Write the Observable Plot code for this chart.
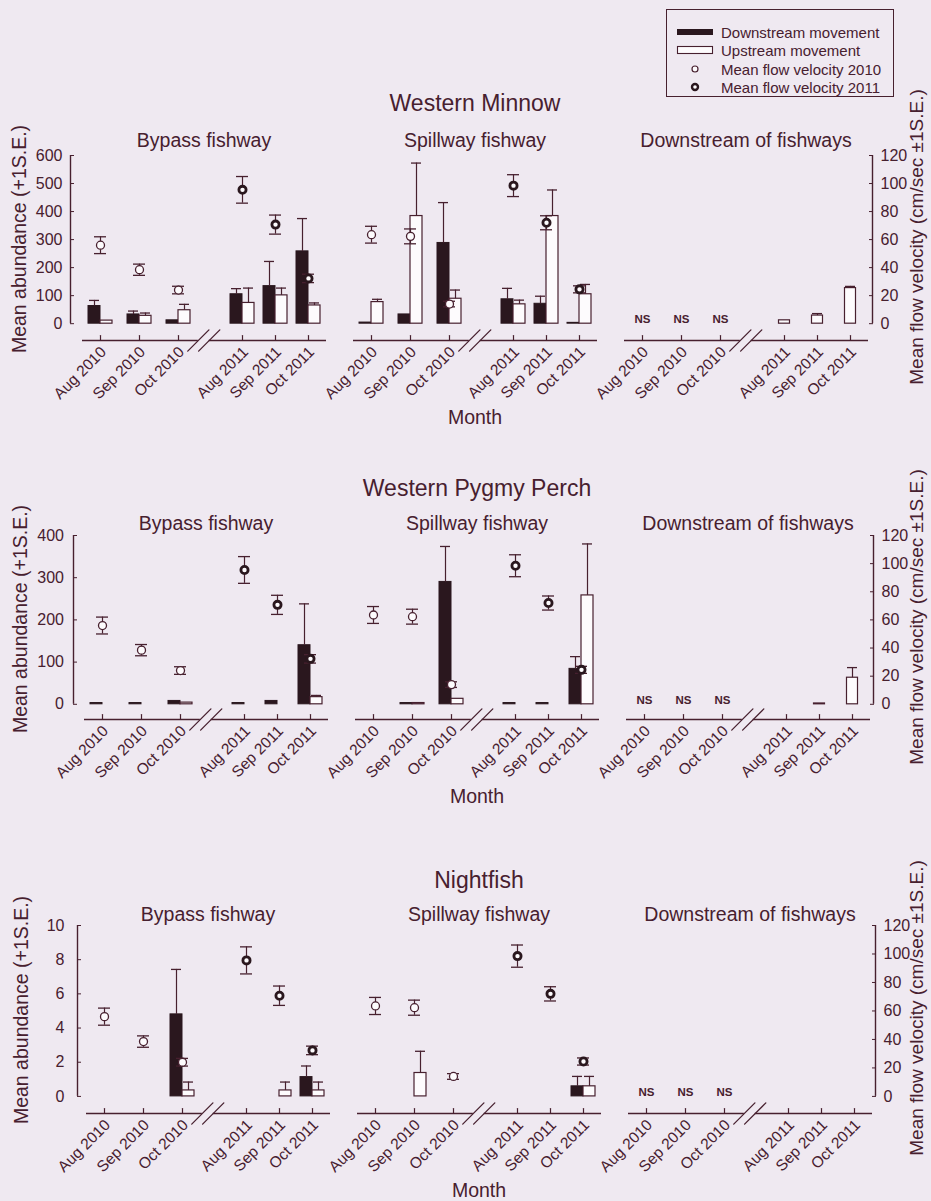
<!DOCTYPE html>
<html>
<head>
<meta charset="utf-8">
<script src="https://cdn.jsdelivr.net/npm/d3@7"></script>
<script src="https://cdn.jsdelivr.net/npm/@observablehq/plot@0.6"></script>
<style>
  html, body { margin: 0; padding: 0; background: #efe9f1; }
  #fig { position: relative; width: 931px; height: 1201px; overflow: hidden; background: #efe9f1;
         font-family: "Liberation Sans", Arial, sans-serif; color: #47202f; }
  .t { position: absolute; white-space: nowrap; line-height: 1; transform: translate(-50%, -50%); }
  .rot { transform: translate(-50%, -50%) rotate(-90deg); }
  .row { position: absolute; left: 0; }
  #legend { position: absolute; left: 666px; top: 9px; width: 228px; height: 88px; border: 1px solid #47202f; box-sizing: border-box; }
  #legend svg { position: absolute; left: 0; top: 0; }
  #legend span { position: absolute; left: 54px; font-size: 15px; line-height: 1; transform: translateY(-50%); white-space: nowrap; }
</style>
</head>
<body>
<div id="fig"></div>
<script>
// ---------- text / categories ----------
const months = ["Aug 2010", "Sep 2010", "Oct 2010", "Aug 2011", "Sep 2011", "Oct 2011"];
const sites = ["Bypass fishway", "Spillway fishway", "Downstream of fishways"];
const speciesNames = ["Western Minnow", "Western Pygmy Perch", "Nightfish"];
const legendLabels = ["Downstream movement", "Upstream movement", "Mean flow velocity 2010", "Mean flow velocity 2011"];
const notSampledLabel = "NS";
const xLabel = "Month";
const yLabelLeft = "Mean abundance (+1S.E.)";
const yLabelRight = "Mean flow velocity (cm/sec \u00b11S.E.)";

// ---------- axes ----------
const abundanceMax = [600, 400, 10];
const abundanceTicks = [[0, 100, 200, 300, 400, 500, 600], [0, 100, 200, 300, 400], [0, 2, 4, 6, 8, 10]];
const velocityMax = 120;
const velocityTicks = [0, 20, 40, 60, 80, 100, 120];

// ---------- mean flow velocity (cm/sec), same in every species row ----------
const bypassVelocity     = [56, 38.5, 24, 95.5, 70.7, 32.3];
const bypassVelocitySE   = [6, 4, 2.7, 9.5, 6.8, 3];
const spillwayVelocity   = [63.5, 62.3, 14, 98.5, 72, 24.5];
const spillwayVelocitySE = [6, 5.3, 2, 7.8, 5, 2.5];

// ---------- Western Minnow ----------
const minnowBypassDown     = [63, 33, 12, 105, 134, 258];
const minnowBypassDownSE   = [20, 12, 0, 20, 88, 117];
const minnowBypassUp       = [11, 28, 48, 74, 101, 65];
const minnowBypassUpSE     = [0, 10, 21, 53, 26, 9];
const minnowSpillwayDown   = [4, 33, 288, 87, 71, 3];
const minnowSpillwayDownSE = [0, 0, 144, 39, 27, 0];
const minnowSpillwayUp     = [77, 384, 89, 69, 384, 105];
const minnowSpillwayUpSE   = [10, 189, 31, 15, 93, 35];
const minnowDownstream     = [null, null, null, 12, 29, 127];
const minnowDownstreamSE   = [0, 0, 0, 0, 7, 6];

// ---------- Western Pygmy Perch ----------
const pygmyBypassDown     = [3, 3, 8, 3, 8, 140];
const pygmyBypassDownSE   = [0, 0, 0, 0, 0, 98];
const pygmyBypassUp       = [0, 0, 4, 0, 0, 17];
const pygmyBypassUpSE     = [0, 0, 0, 0, 0, 4];
const pygmySpillwayDown   = [0, 3, 290, 3, 3, 84];
const pygmySpillwayDownSE = [0, 0, 84, 0, 0, 29];
const pygmySpillwayUp     = [0, 3, 13, 0, 0, 258];
const pygmySpillwayUpSE   = [0, 0, 0, 0, 0, 122];
const pygmyDownstream     = [null, null, null, 0, 2, 63];
const pygmyDownstreamSE   = [0, 0, 0, 0, 0, 24];

// ---------- Nightfish ----------
const nightBypassDown     = [0, 0, 4.8, 0, 0, 1.13];
const nightBypassDownSE   = [0, 0, 2.63, 0, 0, 0.65];
const nightBypassUp       = [0, 0, 0.35, 0, 0.35, 0.35];
const nightBypassUpSE     = [0, 0, 0.49, 0, 0.49, 0.49];
const nightSpillwayDown   = [0, 0, 0, 0, 0, 0.59];
const nightSpillwayDownSE = [0, 0, 0, 0, 0, 0.58];
const nightSpillwayUp     = [0, 1.37, 0, 0, 0, 0.59];
const nightSpillwayUpSE   = [0, 1.27, 0, 0, 0, 0.58];
const nightDownstream     = [null, null, null, 0, 0, 0];
const nightDownstreamSE   = [0, 0, 0, 0, 0, 0];

// ---------- tables built from the arrays ----------
const velocity = [bypassVelocity, spillwayVelocity];
const velocitySE = [bypassVelocitySE, spillwayVelocitySE];
const speciesTables = [
  {down: [minnowBypassDown, minnowSpillwayDown], downSE: [minnowBypassDownSE, minnowSpillwayDownSE],
   up: [minnowBypassUp, minnowSpillwayUp], upSE: [minnowBypassUpSE, minnowSpillwayUpSE],
   below: minnowDownstream, belowSE: minnowDownstreamSE},
  {down: [pygmyBypassDown, pygmySpillwayDown], downSE: [pygmyBypassDownSE, pygmySpillwayDownSE],
   up: [pygmyBypassUp, pygmySpillwayUp], upSE: [pygmyBypassUpSE, pygmySpillwayUpSE],
   below: pygmyDownstream, belowSE: pygmyDownstreamSE},
  {down: [nightBypassDown, nightSpillwayDown], downSE: [nightBypassDownSE, nightSpillwayDownSE],
   up: [nightBypassUp, nightSpillwayUp], upSE: [nightBypassUpSE, nightSpillwayUpSE],
   below: nightDownstream, belowSE: nightDownstreamSE}
];

// ---------- style / layout ----------
const INK = "#47202f", DARK = "#2a171e", PAPER = "#fdfbfd";
const FONT = '"Liberation Sans", Arial, sans-serif';
const LEFT0 = 82, PANEL_W = 244, PANEL_STEP = 271;
const monthOffset = i => i < 3 ? 18 + 39 * i : 160 + 33 * (i - 3);
const BREAK_L = 2.31, BREAK_R = 2.48;
const rowsLayout = [
  {top: 155, axis: 340, shift: 0, yMinFrac: 0.10, title: 103, sub: 141, month: 418, mid: 239, axisDx: -12, labelGap: 8, rightDx: 4, yl: 20},
  {top: 535, axis: 719, shift: 2, yMinFrac: 0.09, title: 488, sub: 524, month: 797, mid: 619, axisDx: -11, labelGap: 9.5, rightDx: 3, yl: 21},
  {top: 925, axis: 1113, shift: 4, yMinFrac: 0.10, title: 880, sub: 915, month: 1191, mid: 1010, axisDx: -9, labelGap: 13, rightDx: 3, yl: 22}
];
const lineShape = {draw(context, l) { context.moveTo(0, 0); context.lineTo(0, -l); }};

const fig = document.getElementById("fig");
function addText(txt, x, y, size, cls = "t", extra = "") {
  const d = document.createElement("div");
  d.className = cls;
  d.textContent = txt;
  d.style.left = x + "px";
  d.style.top = y + "px";
  d.style.fontSize = size + "px";
  if (extra) d.style.cssText += extra;
  fig.appendChild(d);
}

function buildRow(r) {
  const L = rowsLayout[r];
  const S = speciesTables[r];
  const yMax = abundanceMax[r];
  const k = yMax / velocityMax;
  const yMin = -L.yMinFrac * yMax;
  const left = LEFT0 + L.shift;

  // piecewise x scale: three panels, each with a broken axis between years
  const domain = [], range = [];
  for (let p = 0; p < 3; p++) {
    const start = left + p * PANEL_STEP;
    domain.push(p * 10 - 0.5); range.push(start);
    for (let i = 0; i < 6; i++) { domain.push(p * 10 + i); range.push(start + monthOffset(i)); }
    domain.push(p * 10 + 5.5); range.push(start + PANEL_W);
  }

  const downBars = [], upBars = [], centreBars = [], vel = [], ns = [];
  for (let p = 0; p < 2; p++) {
    for (let i = 0; i < 6; i++) {
      if (S.down[p][i] > 0) downBars.push({x: p * 10 + i, v: S.down[p][i], se: S.downSE[p][i]});
      if (S.up[p][i] > 0) upBars.push({x: p * 10 + i, v: S.up[p][i], se: S.upSE[p][i]});
      vel.push({x: p * 10 + i, v: velocity[p][i] * k, se: velocitySE[p][i] * k, year: i < 3 ? 2010 : 2011});
    }
  }
  for (let i = 0; i < 6; i++) {
    if (S.below[i] === null) ns.push({x: 20 + i});
    else if (S.below[i] > 0) centreBars.push({x: 20 + i, v: S.below[i], se: S.belowSE[i]});
  }
  const monthTicks = [0, 1, 2, 3, 4, 5, 10, 11, 12, 13, 14, 15, 20, 21, 22, 23, 24, 25];
  const segments = [0, 10, 20].flatMap(o => [{a: o - 0.5, b: o + BREAK_L}, {a: o + BREAK_R, b: o + 5.5}]);
  const breaks = [0, 10, 20].flatMap(o => [o + BREAK_L, o + BREAK_R]);
  const yMinF = () => yMin;

  const errMarks = [[downBars, -6], [upBars, 6], [centreBars, 0]].flatMap(([data, dx]) => {
    const e = data.filter(d => d.se > 0);
    return [
      Plot.ruleX(e, {x: "x", y1: "v", y2: d => d.v + d.se, dx, stroke: INK, strokeWidth: 1.2}),
      Plot.ruleY(e, {x1: "x", x2: "x", y: d => d.v + d.se, dx, insetLeft: -5, insetRight: -5, stroke: INK, strokeWidth: 1.3})
    ];
  });

  const height = L.axis - L.top + 80;
  const chart = Plot.plot({
    width: 931,
    height,
    marginTop: 10,
    marginBottom: 70,
    marginLeft: left,
    marginRight: 931 - (left + 2 * PANEL_STEP + PANEL_W),
    x: {type: "linear", domain, range, axis: null},
    y: {domain: [yMin, yMax], axis: null},
    style: {fontFamily: FONT, color: INK, background: "transparent", overflow: "visible"},
    marks: [
      // broken x axis
      Plot.ruleY(segments, {x1: "a", x2: "b", y: yMinF, stroke: INK, strokeWidth: 1.5}),
      Plot.vector(breaks, {x: d => d, y: yMinF, rotate: 45, length: 30, anchor: "middle", shape: lineShape, stroke: INK, strokeWidth: 1.3}),
      Plot.vector(monthTicks, {x: d => d, y: yMinF, rotate: 0, length: 5, anchor: "start", shape: lineShape, stroke: INK, strokeWidth: 1.2}),
      Plot.axisX(monthTicks, {anchor: "bottom", label: null, tickSize: 0, tickPadding: 9, tickRotate: -45, dx: 3,
        tickFormat: d => months[d % 10], fontSize: 15.5}),
      // left abundance axis
      Plot.ruleX([-0.5], {x: d => d, y1: () => 0, y2: () => yMax, dx: L.axisDx, stroke: INK, strokeWidth: 1.4}),
      Plot.axisY(abundanceTicks[r], {anchor: "left", label: null, tickSize: -4, tickPadding: L.labelGap + 4, dx: L.axisDx, fontSize: 16}),
      // right velocity axis
      Plot.ruleX([25.5], {x: d => d, y1: () => 0, y2: () => yMax, dx: L.rightDx, stroke: INK, strokeWidth: 1.4}),
      Plot.axisY(velocityTicks.map(v => v * k), {anchor: "right", label: null, tickSize: -4, tickPadding: 12, dx: L.rightDx,
        tickFormat: d => String(Math.round(d / k)), fontSize: 16}),
      // bars
      Plot.rect(downBars, {x1: "x", x2: "x", y1: () => 0, y2: "v", insetLeft: -12, fill: DARK, stroke: DARK, strokeWidth: 1}),
      Plot.rect(upBars, {x1: "x", x2: "x", y1: () => 0, y2: "v", insetRight: -12, fill: PAPER, stroke: INK, strokeWidth: 1.2}),
      Plot.rect(centreBars, {x1: "x", x2: "x", y1: () => 0, y2: "v", insetLeft: -5.5, insetRight: -5.5, fill: PAPER, stroke: INK, strokeWidth: 1.2}),
      ...errMarks,
      // flow velocity with error bars
      Plot.ruleX(vel, {x: "x", y1: d => d.v - d.se, y2: d => d.v + d.se, stroke: INK, strokeWidth: 1.2}),
      Plot.ruleY(vel, {x1: "x", x2: "x", y: d => d.v + d.se, insetLeft: -6, insetRight: -6, stroke: INK, strokeWidth: 1.3}),
      Plot.ruleY(vel, {x1: "x", x2: "x", y: d => d.v - d.se, insetLeft: -6, insetRight: -6, stroke: INK, strokeWidth: 1.3}),
      Plot.dot(vel.filter(d => d.year === 2010), {x: "x", y: "v", r: 4, fill: PAPER, stroke: INK, strokeWidth: 1.3}),
      Plot.dot(vel.filter(d => d.year === 2011), {x: "x", y: "v", r: 3.6, fill: PAPER, stroke: DARK, strokeWidth: 2.8}),
      // not sampled
      Plot.text(ns, {x: "x", y: () => 0, text: () => notSampledLabel, dy: -4, fontSize: 11.5, fontWeight: "bold", fill: INK})
    ]
  });
  chart.classList.add("row");
  chart.style.top = (L.top - 10) + "px";
  fig.appendChild(chart);

  // titles and axis labels
  const centre = p => left + p * PANEL_STEP + PANEL_W / 2;
  addText(speciesNames[r], centre(1), L.title, 23);
  sites.forEach((s, p) => addText(s, centre(p), L.sub, 19.5));
  addText(xLabel, centre(1), L.month, 19.5);
  addText(yLabelLeft, L.yl, L.mid, 19.5, "t rot");
  addText(yLabelRight, 916, L.mid - 2, 19, "t rot");
}

[0, 1, 2].forEach(buildRow);

// ---------- legend ----------
const lg = document.createElement("div");
lg.id = "legend";
const ys = [22, 40, 59, 77];
lg.innerHTML = `<svg width="228" height="88">
  <rect x="10" y="${ys[0] - 3}" width="36" height="6" fill="${DARK}"/>
  <rect x="10.5" y="${ys[1] - 3.5}" width="35" height="7" fill="${PAPER}" stroke="${INK}" stroke-width="1.1"/>
  <circle cx="28" cy="${ys[2]}" r="3" fill="${PAPER}" stroke="${INK}" stroke-width="1.2"/>
  <circle cx="28" cy="${ys[3]}" r="3" fill="${PAPER}" stroke="${DARK}" stroke-width="2.4"/>
</svg>` + legendLabels.map((t, i) => `<span style="top:${ys[i]}px">${t}</span>`).join("");
fig.appendChild(lg);
</script>
</body>
</html>
